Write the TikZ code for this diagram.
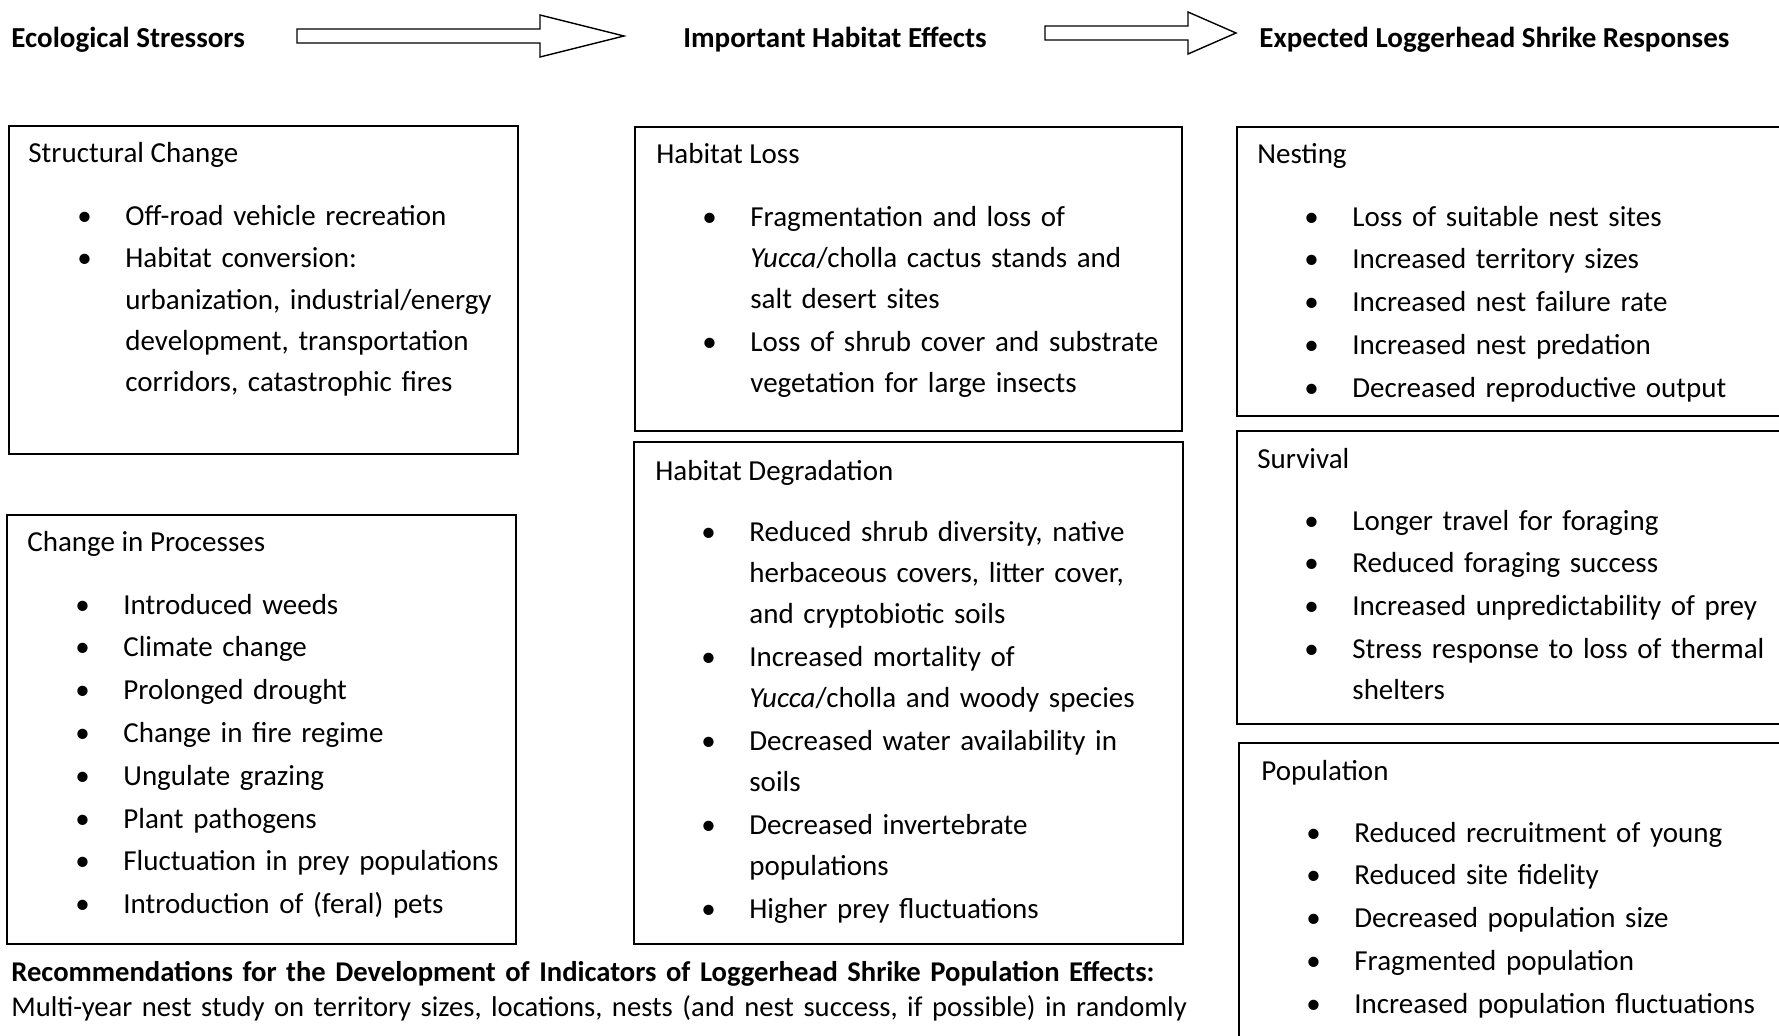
\documentclass[tikz,border=0pt]{standalone}
\usepackage{fontspec}
\setmainfont{Carlito}
\usetikzlibrary{fit}

\newcommand{\bul}{\makebox[24pt][l]{\textbullet}}
\newcommand{\ind}{\hspace*{24pt}}

\begin{document}
\frenchspacing
\begin{tikzpicture}[
    x=0.5pt, y=-0.5pt,
    every node/.style={inner sep=0, font=\fontsize{14.5}{20.6}\selectfont},
    frame/.style={draw, line width=0.8pt, fit={#1}},
    hdr/.style={anchor=base west, font=\fontsize{14.5}{17.5}\selectfont\bfseries},
    title/.style={anchor=base west},
    list/.style={anchor=base west, text width=#1, align=left},
    hollow/.style={draw, line width=0.7pt, fill=white}
]
\path[use as bounding box, clip] (0,0) rectangle (1779,1035);

% ------------------------
% Column headings
% ------------------------
\node[hdr] (hstress) at (11,47) {Ecological Stressors};
\node[hdr] (heffect) at (683,47) {Important Habitat Effects};
\node[hdr] (hresp) at (1259,47) {Expected Loggerhead Shrike Responses};

\coordinate (tailA) at (297,36);
\coordinate (tailB) at (1045,33);
\draw[hollow] (tailA) ++(0,-7) -- ++(243,0) -- ++(0,-14) -- ++(84,21)
    -- ++(-84,21) -- ++(0,-14) -- ++(-243,0) -- cycle;
\draw[hollow] (tailB) ++(0,-7) -- ++(143,0) -- ++(0,-14) -- ++(48,21)
    -- ++(-48,21) -- ++(0,-14) -- ++(-143,0) -- cycle;

% ------------------------
% Ecological stressors (left)
% ------------------------
\node[frame={(9,126) (518,454)}] (structbox) {};
\node[title] (struct) at (28,162) {Structural Change};
\node[list=230pt] (structlist) at (77,225)
{\bul Off-road vehicle recreation\\[0.8pt]
\bul Habitat conversion:\\
\ind urbanization, industrial/energy\\
\ind development, transportation\\
\ind corridors, catastrophic fires};

\node[frame={(7,515) (516,944)}] (procbox) {};
\node[title] (proc) at (27,551) {Change in Processes};
\node[list=230pt] (proclist) at (75,614)
{\bul Introduced weeds\\[0.8pt]
\bul Climate change\\[0.8pt]
\bul Prolonged drought\\[0.8pt]
\bul Change in fire regime\\[0.8pt]
\bul Ungulate grazing\\[0.8pt]
\bul Plant pathogens\\[0.8pt]
\bul Fluctuation in prey populations\\[0.8pt]
\bul Introduction of (feral) pets};

% ------------------------
% Habitat effects (middle)
% ------------------------
\node[frame={(635,127) (1182,431)}] (lossbox) {};
\node[title] (loss) at (656,163) {Habitat Loss};
\node[list=240pt] (losslist) at (702,226)
{\bul Fragmentation and loss of\\
\ind \textit{Yucca}/cholla cactus stands and\\
\ind salt desert sites\\[0.8pt]
\bul Loss of shrub cover and substrate\\
\ind vegetation for large insects};

\node[frame={(634,442) (1183,944)}] (degbox) {};
\node[title] (deg) at (655,480) {Habitat Degradation};
\node[list=240pt] (deglist) at (701,541)
{\bul Reduced shrub diversity, native\\
\ind herbaceous covers, litter cover,\\
\ind and cryptobiotic soils\\[0.8pt]
\bul Increased mortality of\\
\ind \textit{Yucca}/cholla and woody species\\[0.8pt]
\bul Decreased water availability in\\
\ind soils\\[0.8pt]
\bul Decreased invertebrate\\
\ind populations\\[0.8pt]
\bul Higher prey fluctuations};

% ------------------------
% Shrike responses (right)
% ------------------------
\node[frame={(1237,127) (1800,416)}] (nestbox) {};
\node[title] (nest) at (1257,163) {Nesting};
\node[list=240pt] (nestlist) at (1304,226)
{\bul Loss of suitable nest sites\\[0.8pt]
\bul Increased territory sizes\\[0.8pt]
\bul Increased nest failure rate\\[0.8pt]
\bul Increased nest predation\\[0.8pt]
\bul Decreased reproductive output};

\node[frame={(1237,431) (1800,724)}] (survbox) {};
\node[title] (surv) at (1257,468) {Survival};
\node[list=240pt] (survlist) at (1304,530)
{\bul Longer travel for foraging\\[0.8pt]
\bul Reduced foraging success\\[0.8pt]
\bul Increased unpredictability of prey\\[0.8pt]
\bul Stress response to loss of thermal\\
\ind shelters};

\node[frame={(1239,743) (1800,1100)}] (popbox) {};
\node[title] (pop) at (1261,780) {Population};
\node[list=240pt] (poplist) at (1306,842)
{\bul Reduced recruitment of young\\[0.8pt]
\bul Reduced site fidelity\\[0.8pt]
\bul Decreased population size\\[0.8pt]
\bul Fragmented population\\[0.8pt]
\bul Increased population fluctuations};

% ------------------------
% Recommendations (bottom)
% ------------------------
\node[list=600pt, font=\fontsize{14.3}{17.5}\selectfont] (recs) at (11,981)
{\textbf{Recommendations for the Development of Indicators of Loggerhead Shrike Population Effects:}\\
Multi-year nest study on territory sizes, locations, nests (and nest success, if possible) in randomly};

\end{tikzpicture}
\end{document}
